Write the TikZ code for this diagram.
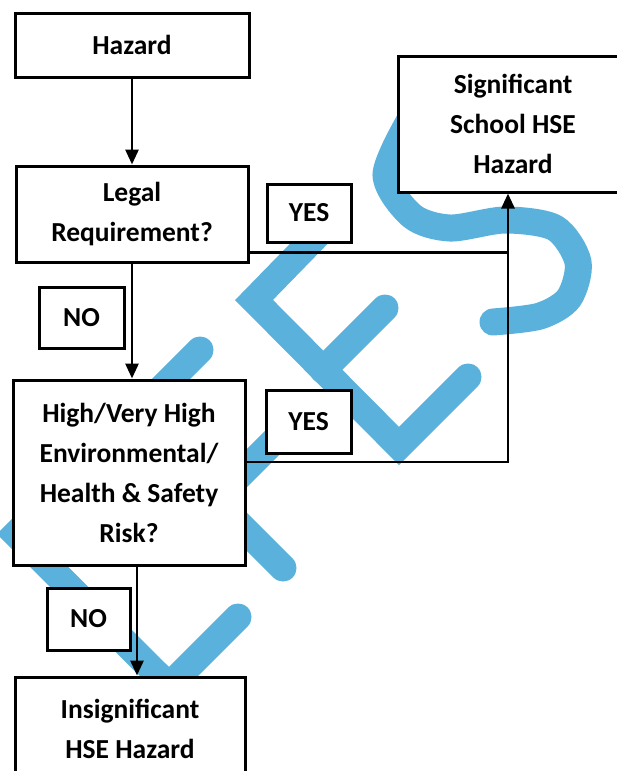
\documentclass[tikz,border=0pt]{standalone}
\usepackage{fontspec}
\setmainfont{Carlito}
\usetikzlibrary{arrows.meta}
\definecolor{wmblue}{RGB}{90,178,220}
\tikzset{>={Triangle[length=15pt,width=13pt]}}
\tikzset{
  box/.style={draw, line width=3pt, fill=white, align=center, inner sep=0pt,
    font=\fontsize{27.5}{40}\selectfont\bfseries},
  conn/.style={line width=2.8pt},
  logo/.style={wmblue, line width=27pt, line cap=round}
}

\begin{document}
\begin{tikzpicture}[x=1pt, y=-1pt]
\useasboundingbox (0,0) rectangle (617,771);
\draw[logo] (330,222) -- (254,300) -- (399,446) -- (468,377);
\draw[logo] (323,370) -- (385,308);
\draw[logo] (305,410) -- (220,495);
\draw[logo] (200,350) -- (16,534) -- (169,686) -- (238,617);
\draw[logo] (130,415) -- (283,568);
\draw[logo] plot[smooth] coordinates {(410,120) (386,175) (412,216) (450,228) (505,220) (555,228) (578,262) (569,298) (540,316) (493,322)};
\node[box, minimum width=234pt, minimum height=64pt] (haz) at (132,45) {Hazard};
\node[box, minimum width=232pt, minimum height=96pt] (legal) at (132,214) {Legal\\Requirement?};
\node[box, minimum width=84pt, minimum height=58pt] (yes1) at (309,213) {YES};
\node[box, minimum width=230pt, minimum height=136pt] (sig) at (513,124) {Significant\\School HSE\\Hazard};
\node[box, minimum width=85pt, minimum height=61pt] (no1) at (81.5,317.5) {NO};
\node[box, minimum width=232pt, minimum height=185pt] (high) at (129,472.5) {High/Very High\\Environmental/\\Health \& Safety\\Risk?};
\node[box, minimum width=85pt, minimum height=63pt] (yes2) at (308.5,421.5) {YES};
\node[box, minimum width=83pt, minimum height=62pt] (no2) at (88.5,619) {NO};
\node[box, minimum width=230pt, minimum height=104pt] (insig) at (130,729) {Insignificant\\HSE Hazard};
\coordinate (join) at (508,462);
\draw[conn, ->] (haz.south) -- (haz.south |- legal.north);
\draw[conn, ->] (legal.south) -- (legal.south |- high.north);
\draw[conn, ->] ([xshift=8pt]high.south) -- ([xshift=8pt]high.south |- insig.north);
\draw[conn] ([yshift=11pt]legal.south east) -- ([yshift=11pt]legal.south east -| join);
\draw[conn, ->] (join -| high.east) -- (join) -- (join |- sig.south);
\end{tikzpicture}
\end{document}
